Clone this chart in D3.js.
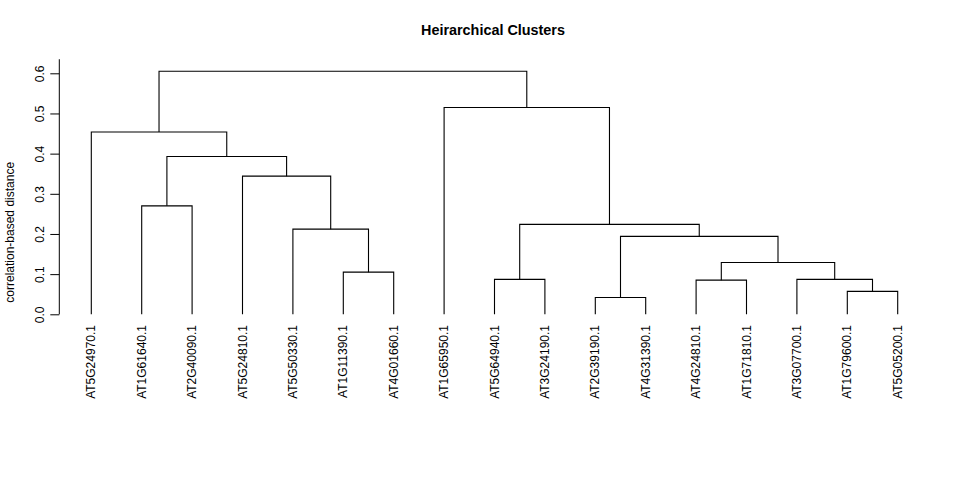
<!DOCTYPE html>
<html>
<head>
<meta charset="utf-8">
<script src="https://cdn.jsdelivr.net/npm/d3@7"></script>
<style>
  body { margin: 0; background: #fff; }
  svg { display: block; font-family: "Liberation Sans", Arial, sans-serif; }
</style>
</head>
<body>
<svg id="chart" width="960" height="480"></svg>
<script>
// Leaf labels in dendrogram order
const leafLabels = [
  "AT5G24970.1", "AT1G61640.1", "AT2G40090.1", "AT5G24810.1", "AT5G50330.1",
  "AT1G11390.1", "AT4G01660.1", "AT1G65950.1", "AT5G64940.1", "AT3G24190.1",
  "AT2G39190.1", "AT4G31390.1", "AT4G24810.1", "AT1G71810.1", "AT3G07700.1",
  "AT1G79600.1", "AT5G05200.1"
];
// Merge steps (R hclust style): negative = leaf index (1-based), positive = earlier merge
const mergeLeft  = [-11, -16, -13,  -9, -15,  -6,   3,   1,  -5,   4,  -2,  -4,  11,  -1,  -8,  14];
const mergeRight = [-12, -17, -14, -10,   2,  -7,   5,   7,   6,   8,  -3,   9,  12,  13,  10,  15];
const mergeHeight = [0.042, 0.057, 0.085, 0.087, 0.087, 0.105, 0.129, 0.194,
                     0.212, 0.224, 0.270, 0.344, 0.393, 0.454, 0.515, 0.605];
const yTicks = [0.0, 0.1, 0.2, 0.3, 0.4, 0.5, 0.6];
const titleText = "Heirarchical Clusters";
const yLabel = "correlation-based distance";

const svg = d3.select("#chart");

const x = d3.scaleLinear().domain([1, leafLabels.length]).range([91.3, 897.7]);
const y = d3.scaleLinear().domain([0, 0.6]).range([314.3, 73.3]);

// compute node positions
const nodeX = [], nodeH = [];
function childPos(c) {
  if (c < 0) return { x: x(-c), h: 0 };
  return { x: nodeX[c - 1], h: nodeH[c - 1] };
}
const g = svg.append("g").attr("fill", "none").attr("stroke", "#000").attr("stroke-width", 1.1);
mergeHeight.forEach((h, i) => {
  const a = childPos(mergeLeft[i]);
  const b = childPos(mergeRight[i]);
  nodeX.push((a.x + b.x) / 2);
  nodeH.push(h);
  const p = d3.path();
  p.moveTo(a.x, y(a.h));
  p.lineTo(a.x, y(h));
  p.lineTo(b.x, y(h));
  p.lineTo(b.x, y(b.h));
  g.append("path").attr("d", p.toString());
});

// y axis
const axisX = 59.3;
const axisG = svg.append("g").attr("transform", `translate(${axisX},0)`)
  .call(d3.axisLeft(y).tickValues(yTicks).tickFormat(d3.format(".1f")).tickSize(9).tickSizeOuter(0));
axisG.select(".domain").remove();
axisG.append("line")
  .attr("x1", 0).attr("x2", 0)
  .attr("y1", y(0)).attr("y2", y(0.635))
  .attr("stroke", "#000");
axisG.selectAll(".tick line").attr("stroke", "#000");
axisG.selectAll(".tick text")
  .attr("transform", "rotate(-90)")
  .attr("x", 0).attr("y", -15.3).attr("dy", 0)
  .attr("text-anchor", "middle")
  .attr("fill", "#000")
  .style("font-size", "12px")
  .style("font-family", "'Liberation Sans', Arial, sans-serif");

// leaf labels
svg.append("g").selectAll("text").data(leafLabels).join("text")
  .attr("transform", (d, i) => `translate(${x(i + 1) + 4},325) rotate(-90)`)
  .attr("text-anchor", "end")
  .style("font-size", "12px")
  .attr("fill", "#000")
  .text(d => d);

// title
svg.append("text")
  .attr("x", 493).attr("y", 35)
  .attr("text-anchor", "middle")
  .style("font-size", "14.4px").style("font-weight", "bold")
  .text(titleText);

// y label
svg.append("text")
  .attr("transform", "translate(14,232.3) rotate(-90)")
  .attr("text-anchor", "middle")
  .style("font-size", "12px")
  .text(yLabel);
</script>
</body>
</html>
